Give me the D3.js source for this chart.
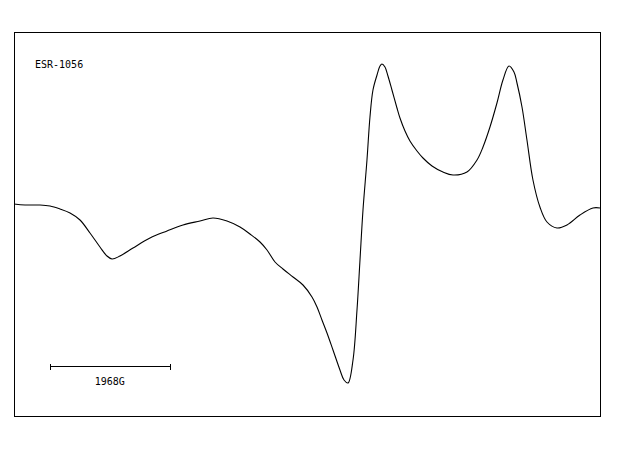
<!DOCTYPE html>
<html><head><meta charset="utf-8">
<script src="https://cdn.jsdelivr.net/npm/d3@7"></script>
<style>html,body{margin:0;padding:0;background:#fff;}svg{display:block;}</style>
</head><body>
<script>
// Magnetic field (G) and ESR derivative intensity (arbitrary units)
const field = [0,180,425,588,751,915,1078,1241,1404,1519,1600,1731,1944,2221,2499,2760,3038,3250,3479,3691,3854,4018,4132,4263,4393,4557,4720,4867,4949,5030,5112,5210,5324,5390,5455,5537,5602,5651,5700,5765,5814,5863,5929,5978,6010,6059,6108,6173,6255,6304,6386,6467,6582,6680,6827,7006,7170,7398,7562,7660,7774,7888,7986,8084,8166,8215,8297,8378,8476,8590,8705,8868,9032,9244,9456,9571];
const intensity = [1,0,0,-1,-4,-8,-15,-28,-42,-51,-54,-51,-43,-33,-26,-20,-16,-13,-16,-22,-29,-37,-45,-57,-64,-72,-80,-92,-102,-115,-128,-145,-165,-175,-178,-155,-105,-55,-5,45,88,115,130,139,141,138,129,115,97,87,74,64,54,47,39,33,30,33,45,58,78,102,125,139,133,122,98,65,25,-2,-17,-23,-20,-10,-3,-3];
const sampleLabel = ["ESR-1056"];
const scaleBar = [580, 2548];
const scaleLabel = ["1968G"];
const fieldDomain = [0, 9571];
const intensityDomain = [-211, 173];

const W = 620, H = 455;
const svg = d3.select("body").append("svg").attr("width", W).attr("height", H);
const x = d3.scaleLinear().domain(fieldDomain).range([14, 600]);
const y = d3.scaleLinear().domain(intensityDomain).range([416, 32]);

svg.append("rect").attr("x", 14.5).attr("y", 32.5).attr("width", 586).attr("height", 384)
  .attr("fill", "none").attr("stroke", "#000").attr("stroke-width", 1).attr("shape-rendering","crispEdges");

const pts = field.map((f, i) => [f, intensity[i]]);
const line = d3.line().x(d => x(d[0])).y(d => y(d[1])).curve(d3.curveCatmullRom.alpha(0.5));
svg.append("path").attr("d", line(pts)).attr("fill", "none").attr("stroke", "#000").attr("stroke-width", 1.1);

svg.append("text").attr("x", 35).attr("y", 68).text(sampleLabel[0])
  .attr("font-family", "DejaVu Sans Mono").attr("font-size", 10).attr("fill", "#000");

const by = 366.5;
const g = svg.append("g").attr("stroke", "#000").attr("stroke-width", 1).attr("shape-rendering","crispEdges");
g.append("line").attr("x1", x(scaleBar[0])).attr("x2", x(scaleBar[1])).attr("y1", by).attr("y2", by);
scaleBar.forEach(v => g.append("line").attr("x1", Math.round(x(v))+0.5).attr("x2", Math.round(x(v))+0.5).attr("y1", by-3).attr("y2", by+3));
svg.append("text").attr("x", (x(scaleBar[0])+x(scaleBar[1]))/2).attr("y", 385).attr("text-anchor","middle")
  .text(scaleLabel[0]).attr("font-family", "DejaVu Sans Mono").attr("font-size", 10).attr("fill", "#000");
</script>
</body></html>
